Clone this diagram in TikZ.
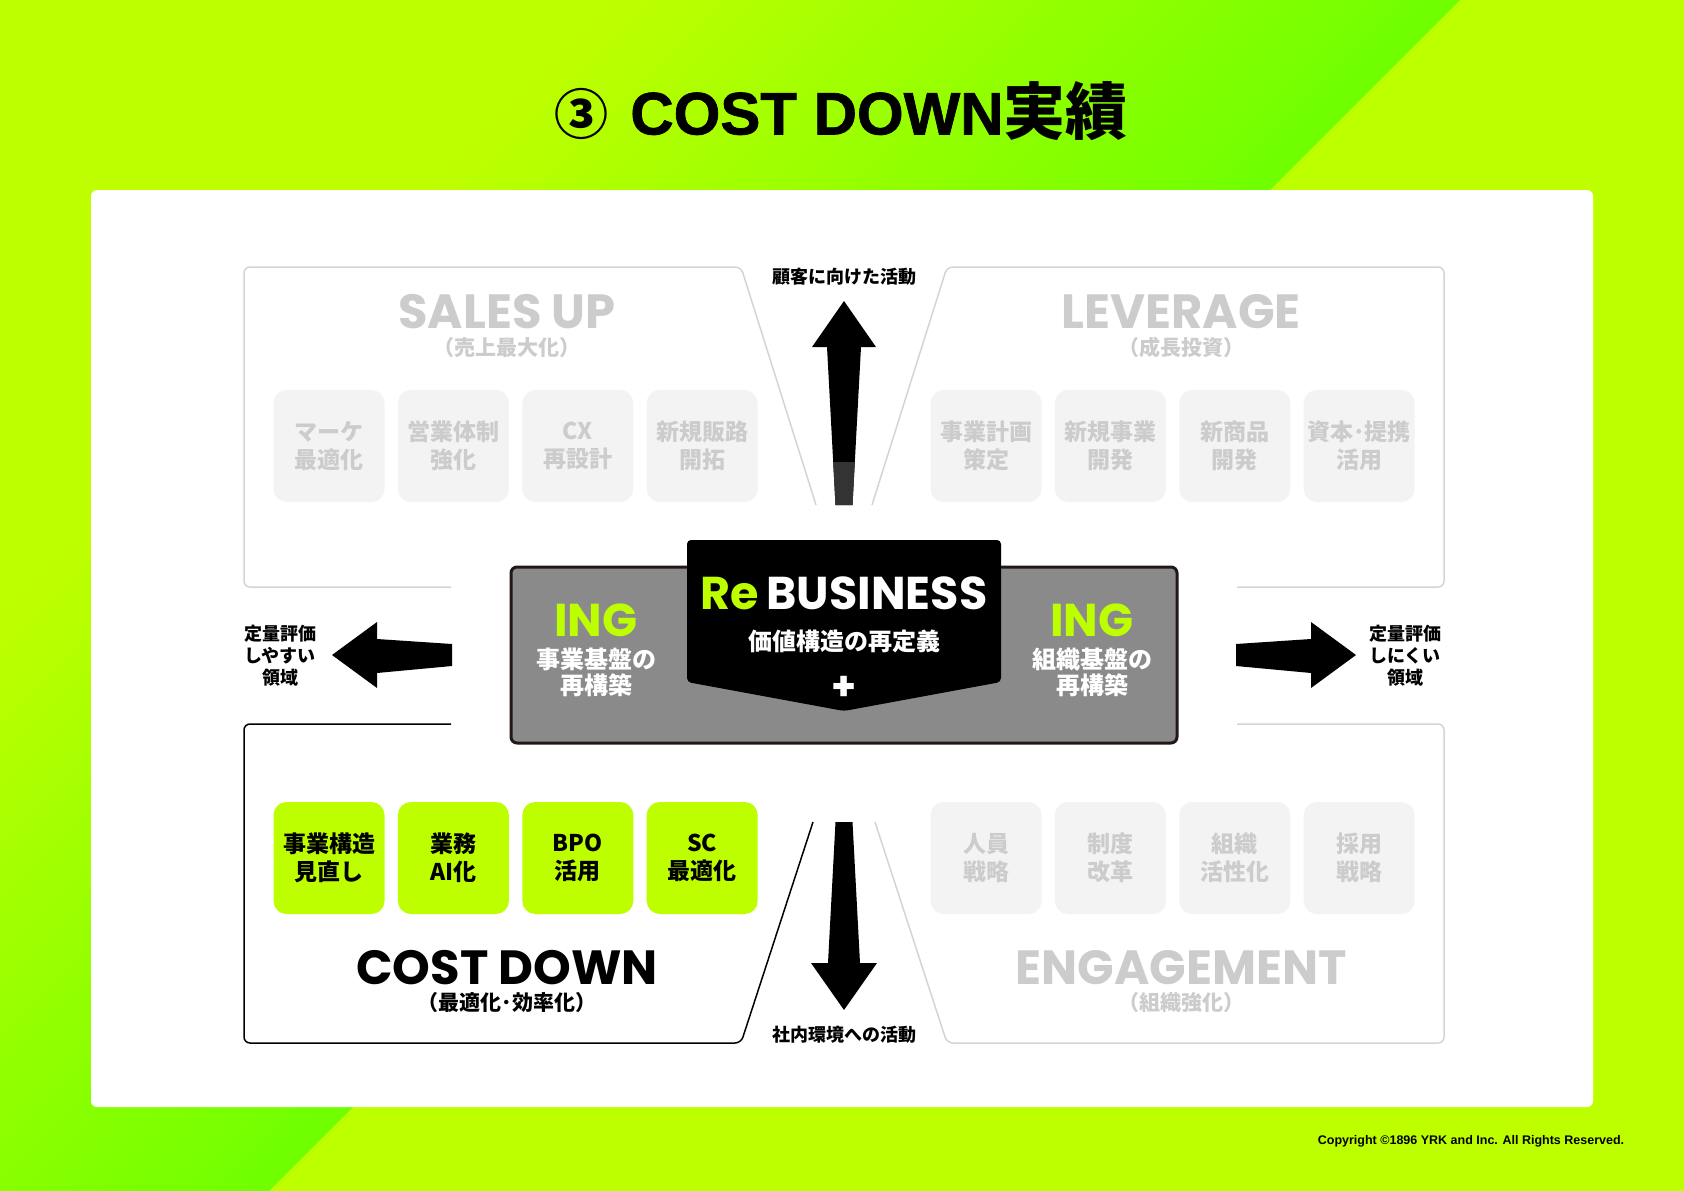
\documentclass[tikz,border=0pt]{standalone}
\usepackage{fontspec}
\setmainfont{Poppins}
\newfontfamily\jpfont{Noto Sans CJK JP}
\newfontfamily\arialfont{Liberation Sans}
\newfontfamily\titlefont[FakeBold=1.2]{Liberation Sans}
\usetikzlibrary{positioning}

\definecolor{limeA}{RGB}{190,255,0}
\definecolor{greenA}{RGB}{110,255,0}
\definecolor{boxgrey}{RGB}{243,243,243}
\definecolor{textgrey}{RGB}{204,204,204}
\definecolor{linegrey}{RGB}{212,212,212}
\definecolor{coregrey}{RGB}{138,138,138}
\definecolor{coreline}{RGB}{35,24,21}
\definecolor{shaftdark}{RGB}{51,51,51}

\tikzset{
  areabox/.style={rounded corners=13pt, minimum width=111pt, minimum height=112pt,
    inner sep=0pt, align=center, font=\jpfont\bfseries\fontsize{23}{28}\selectfont},
  offbox/.style={areabox, fill=boxgrey, text=textgrey},
  onbox/.style={areabox, fill=limeA, text=black},
  heading/.style={inner sep=0pt, text height=34pt, text depth=0pt,
    font=\bfseries\fontsize{48}{48}\selectfont},
  subheading/.style={inner sep=0pt, text height=16pt, text depth=3pt,
    font=\jpfont\bfseries\fontsize{21}{21}\selectfont},
  fieldline/.style={line width=1.5pt, rounded corners=6pt},
  sidenote/.style={align=center, inner sep=0pt, font=\jpfont\bfseries\fontsize{18}{22}\selectfont},
}

\begin{document}
\begin{tikzpicture}[x=1pt, y=-1pt]
  \useasboundingbox (0,0) rectangle (1684,1191);

  % background
  \fill[limeA] (0,0) rectangle (1684,1191);
  \begin{scope}
    \clip (0,0) rectangle (1684,1191);
    \foreach \i in {0,...,29}{
      \pgfmathsetmacro\cfrom{620+28*\i}
      \pgfmathsetmacro\cto{min(\cfrom+29,1460)}
      \pgfmathtruncatemacro\mixp{(\i+0.5)*100/30}
      \fill[greenA!\mixp!limeA] (\cfrom+200,-200) -- (\cto+200,-200)
        -- (\cto-1400,1400) -- (\cfrom-1400,1400) -- cycle;
    }
  \end{scope}
  \fill[white, rounded corners=6pt] (91,190) rectangle (1593,1107);

  \node[font=\bfseries, inner sep=0pt] (title) at (841,111)
    {{\jpfont\fontsize{54}{54}\selectfont ③}\hspace{22pt}%
     {\titlefont\fontsize{60}{60}\selectfont COST DOWN}%
     {\jpfont\fontsize{62}{62}\selectfont 実績}};

  % four fields
  \draw[fieldline, linegrey] (451,587) -- (244,587) -- (244,267) -- (741,267) -- (816,505);
  \draw[fieldline, linegrey] (1237,587) -- (1444,587) -- (1444,267) -- (947,267) -- (872,505);
  \draw[fieldline, black] (451,724) -- (244,724) -- (244,1043) -- (741,1043) -- (813,822);
  \draw[fieldline, linegrey] (1237,724) -- (1444,724) -- (1444,1043) -- (947,1043) -- (875,822);

  \node[heading, textgrey] (sales) at (507,311) {SALES UP};
  \node[subheading, textgrey] (salessub) at (507,349) {（売上最大化）};
  \node[heading, textgrey] (lever) at (1181,311) {LEVERAGE};
  \node[subheading, textgrey] (leversub) at (1181,349) {（成長投資）};
  \node[heading, black] (cost) at (507,967) {COST DOWN};
  \node[subheading, black] (costsub) at (507,1004) {（最適化･効率化）};
  \node[heading, textgrey] (engage) at (1181,967) {ENGAGEMENT};
  \node[subheading, textgrey] (engagesub) at (1181,1004) {（組織強化）};

  \node[offbox] (sales1) at (329,446) {マーケ\\最適化};
  \node[offbox, right=13pt of sales1] (sales2) {営業体制\\強化};
  \node[offbox, right=13pt of sales2] (sales3) {CX\\再設計};
  \node[offbox, right=13pt of sales3] (sales4) {新規販路\\開拓};

  \node[offbox] (lever1) at (986,446) {事業計画\\策定};
  \node[offbox, right=13pt of lever1] (lever2) {新規事業\\開発};
  \node[offbox, right=13pt of lever2] (lever3) {新商品\\開発};
  \node[offbox, right=13pt of lever3] (lever4) {資本･提携\\活用};

  \node[onbox] (cost1) at (329,858) {事業構造\\見直し};
  \node[onbox, right=13pt of cost1] (cost2) {業務\\AI化};
  \node[onbox, right=13pt of cost2] (cost3) {BPO\\活用};
  \node[onbox, right=13pt of cost3] (cost4) {SC\\最適化};

  \node[offbox] (engage1) at (986,858) {人員\\戦略};
  \node[offbox, right=13pt of engage1] (engage2) {制度\\改革};
  \node[offbox, right=13pt of engage2] (engage3) {組織\\活性化};
  \node[offbox, right=13pt of engage3] (engage4) {採用\\戦略};

  % arrows
  \fill (844,301) -- (876,347) -- (861,347) -- (852.5,505) -- (835.5,505)
    -- (827,347) -- (812,347) -- cycle;
  \fill[shaftdark] (833.2,462) -- (854.8,462) -- (852.5,505) -- (835.5,505) -- cycle;
  \fill (835.5,822) -- (852.5,822) -- (860,963) -- (877,963) -- (844,1010)
    -- (811,963) -- (828,963) -- cycle;
  \fill (332,655) -- (377,622) -- (377,639) -- (452,644) -- (452,666)
    -- (377,673) -- (377,688) -- cycle;
  \fill (1356,655) -- (1311,622) -- (1311,639) -- (1236,644) -- (1236,666)
    -- (1311,673) -- (1311,688) -- cycle;

  \node[sidenote] (custlbl) at (844,277) {顧客に向けた活動};
  \node[sidenote] (innerlbl) at (844,1035) {社内環境への活動};
  \node[sidenote] (easy) at (280,656) {定量評価\\しやすい\\領域};
  \node[sidenote] (hard) at (1405,656) {定量評価\\しにくい\\領域};

  % core
  \node[draw=coreline, line width=3pt, fill=coregrey, rounded corners=6pt,
    minimum width=666pt, minimum height=176pt] (core) at (844,655) {};
  \fill[black, rounded corners=4pt] (687,540) -- (1001,540) -- (1001,682)
    -- (844,711) -- (687,682) -- cycle;
  \node[font=\bfseries\fontsize{46}{46}\selectfont] (rebiz) at (844,593)
    {\textcolor{limeA}{Re}\,\textcolor{white}{BUSINESS}};
  \node[white, font=\jpfont\bfseries\fontsize{24}{24}\selectfont] (redef) at (844,641) {価値構造の再定義};
  \node[white, font=\bfseries\fontsize{40}{40}\selectfont] (plus) at (844,688) {+};

  \node[limeA, font=\bfseries\fontsize{46}{46}\selectfont] (ingL) at (596,620) {ING};
  \node[white, align=center, font=\jpfont\bfseries\fontsize{24}{26}\selectfont] (baseL) at (596,672) {事業基盤の\\再構築};
  \node[limeA, font=\bfseries\fontsize{46}{46}\selectfont] (ingR) at (1092,620) {ING};
  \node[white, align=center, font=\jpfont\bfseries\fontsize{24}{26}\selectfont] (baseR) at (1092,672) {組織基盤の\\再構築};

  \node[font=\arialfont\bfseries\fontsize{12.5}{12.5}\selectfont] (copy) at (1471,1141)
    {Copyright ©1896 YRK and Inc. All Rights Reserved.};
\end{tikzpicture}
\end{document}
